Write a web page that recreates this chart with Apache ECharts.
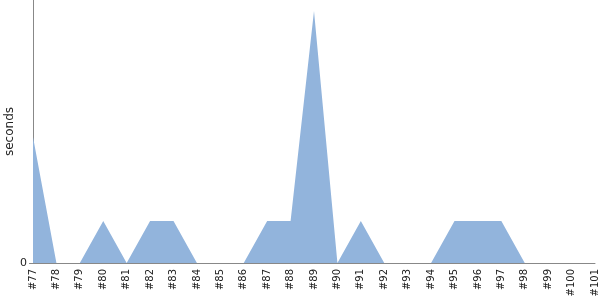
<!DOCTYPE html>
<html><head><meta charset="utf-8">
<script src="https://cdn.jsdelivr.net/npm/echarts@6/dist/echarts.min.js"></script>
<style>html,body{margin:0;padding:0;background:#fff}#c{width:600px;height:300px}</style>
</head><body><div id="c"></div>
<script>
const categories = ['#77','#78','#79','#80','#81','#82','#83','#84','#85','#86','#87','#88','#89','#90','#91','#92','#93','#94','#95','#96','#97','#98','#99','#100','#101'];
const seconds = [3,0,0,1,0,1,1,0,0,0,1,1,6,0,1,0,0,0,1,1,1,0,0,0,0];
const yTickLabels = ['0'];
const chart = echarts.init(document.getElementById('c'), null, {renderer:'canvas'});
chart.setOption({
  animation:false,
  grid:{left:33,right:5,top:0,bottom:37,containLabel:false,outerBoundsMode:'none'},
  xAxis:{type:'category',data:categories,boundaryGap:false,
    axisLine:{lineStyle:{color:'#888'}},axisTick:{show:false},
    axisLabel:{rotate:90,color:'#222',fontSize:10,fontFamily:'DejaVu Sans',interval:0,margin:6}},
  yAxis:{type:'value',min:0,max:6.26,interval:10,name:'seconds',nameLocation:'middle',nameGap:17,
    nameMoveOverlap:false,
    nameTextStyle:{color:'#222',fontSize:12,fontFamily:'DejaVu Sans'},
    axisLine:{show:true,lineStyle:{color:'#888'}},axisTick:{show:true,length:4,lineStyle:{color:'#888'}},
    splitLine:{show:false},
    axisLabel:{showMaxLabel:false,color:'#222',fontSize:11,fontFamily:'DejaVu Sans',margin:6,
      formatter:v=>v===0?yTickLabels[0]:''}},
  series:[{type:'line',data:seconds,symbol:'none',lineStyle:{width:0},
    areaStyle:{color:'#92b4dc',opacity:1}}]
});
</script></body></html>
